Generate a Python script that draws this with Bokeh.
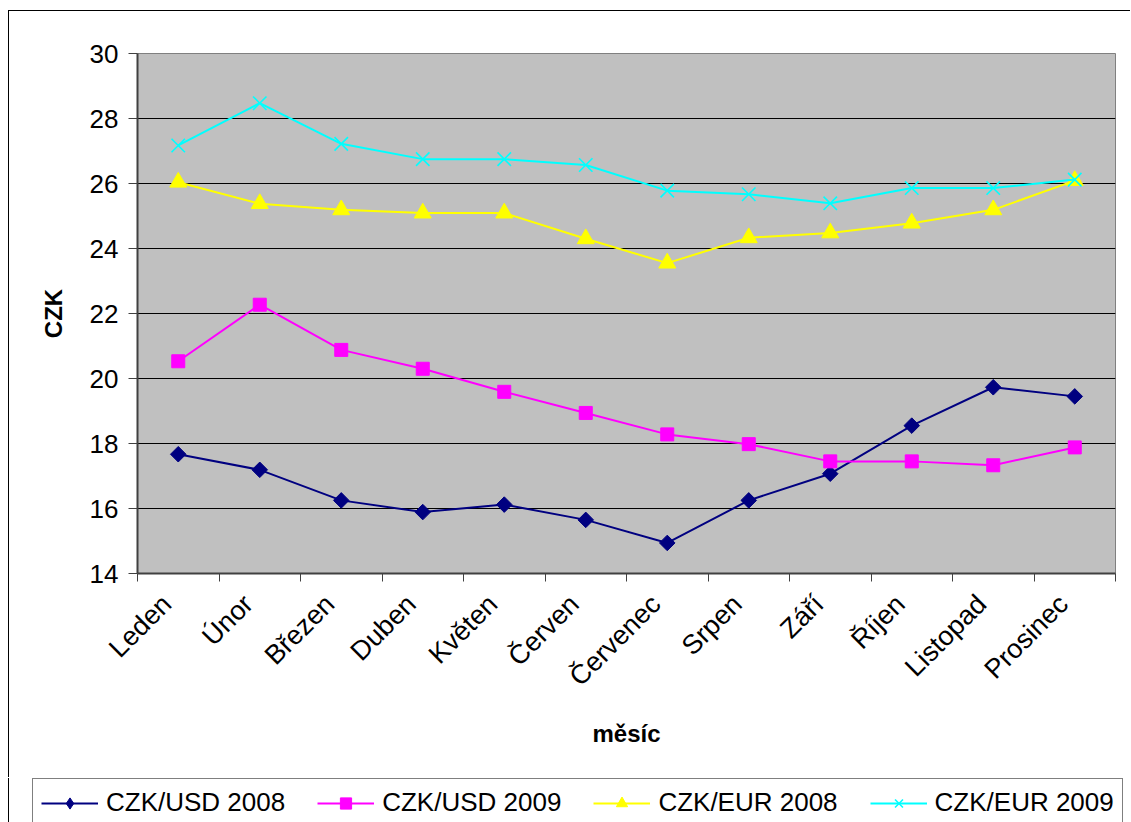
import math
from bokeh.plotting import figure
from bokeh.layouts import column
from bokeh.models import FixedTicker, Legend, LegendItem, Range1d
from bokeh.embed import file_html
from bokeh.resources import INLINE

months = ["Leden", "Únor", "Březen", "Duben", "Květen", "Červen",
          "Červenec", "Srpen", "Září", "Říjen", "Listopad", "Prosinec"]
usd_2008 = [17.67, 17.19, 16.25, 15.89, 16.12, 15.65, 14.94, 16.25, 17.07, 18.55, 19.73, 19.45]
usd_2009 = [20.53, 22.27, 20.88, 20.30, 19.59, 18.94, 18.28, 17.98, 17.45, 17.45, 17.33, 17.88]
eur_2008 = [26.04, 25.38, 25.19, 25.09, 25.09, 24.30, 23.55, 24.33, 24.48, 24.78, 25.19, 26.09]
eur_2009 = [27.17, 28.47, 27.22, 26.75, 26.75, 26.57, 25.78, 25.67, 25.39, 25.86, 25.86, 26.12]
y_ticks = [14, 16, 18, 20, 22, 24, 26, 28, 30]
series_names = ["CZK/USD 2008", "CZK/USD 2009", "CZK/EUR 2008", "CZK/EUR 2009"]

FONT = "Liberation Sans"
x = [i + 0.5 for i in range(len(months))]
label_pos = [xi - 0.14 for xi in x]

p = figure(width=1122, height=767, output_backend="svg", toolbar_location=None,
           x_range=Range1d(0, len(months)), y_range=Range1d(14, 30),
           min_border_left=128, min_border_right=16, min_border_top=42,
           min_border_bottom=205)
p.frame_align = False
p.margin = (11, 0, 0, 9)
p.styles = {"box-shadow": "-1px -1px 0px 0px black"}
p.background_fill_color = "#C0C0C0"
p.border_fill_color = "white"
p.outline_line_color = "#808080"
p.outline_line_width = 1

# x axis: labels under category centres, ticks at category boundaries
p.xaxis.ticker = FixedTicker(ticks=label_pos, minor_ticks=list(range(len(months) + 1)))
p.xaxis.major_label_overrides = {lp: m for lp, m in zip(label_pos, months)}
p.xaxis.major_label_orientation = math.pi / 4
p.xaxis.major_tick_out = 0
p.xaxis.major_tick_in = 0
p.xaxis.minor_tick_out = 8
p.xaxis.minor_tick_in = 0
p.xaxis.minor_tick_line_color = "#404040"
p.xaxis.axis_line_color = "#404040"
p.xaxis.axis_line_width = 2
p.xaxis.major_label_text_font = FONT
p.xaxis.major_label_text_font_size = "27px"
p.xaxis.major_label_text_color = "black"
p.xaxis.major_label_standoff = 18
p.xaxis.axis_label = "měsíc"
p.xaxis.axis_label_text_font = FONT
p.xaxis.axis_label_text_font_size = "24px"
p.xaxis.axis_label_text_font_style = "bold"
p.xaxis.axis_label_text_color = "black"
p.xaxis.axis_label_standoff = 15

p.yaxis.ticker = FixedTicker(ticks=y_ticks)
p.yaxis.major_tick_out = 9
p.yaxis.major_tick_in = 0
p.yaxis.minor_tick_out = 0
p.yaxis.minor_tick_in = 0
p.yaxis.major_tick_line_color = "#404040"
p.yaxis.axis_line_color = "#404040"
p.yaxis.axis_line_width = 2
p.yaxis.major_label_text_font = FONT
p.yaxis.major_label_text_font_size = "26px"
p.yaxis.major_label_text_color = "black"
p.yaxis.major_label_standoff = 10
p.yaxis.axis_label = "CZK"
p.yaxis.axis_label_text_font = FONT
p.yaxis.axis_label_text_font_size = "24px"
p.yaxis.axis_label_text_font_style = "bold"
p.yaxis.axis_label_text_color = "black"
p.yaxis.axis_label_standoff = 20

p.xgrid.grid_line_color = None
p.ygrid.grid_line_color = "black"
p.ygrid.grid_line_width = 1

colors = ["#000080", "#FF00FF", "#FFFF00", "#00FFFF"]
markers = ["square", "square", "triangle", "x"]
legend_markers = ["diamond", "square", "triangle", "x"]
angles = [math.pi / 4, 0, 0, 0]
sizes = [11, 13, 17, 19]
data = [usd_2008, usd_2009, eur_2008, eur_2009]

# legend strip below the chart (its own series copies fall outside its empty view)
pl = figure(width=1122, height=44, output_backend="svg", toolbar_location=None,
            x_axis_type=None, y_axis_type=None, x_range=Range1d(0, 1),
            y_range=Range1d(0, 1), min_border=0, min_border_left=23)
pl.frame_align = False
pl.margin = (0, 0, 0, 9)
pl.styles = {"box-shadow": "-1px 0px 0px 0px black"}
pl.outline_line_color = None
pl.background_fill_color = "white"
pl.border_fill_color = "white"
pl.xgrid.visible = False
pl.ygrid.visible = False

items = []
for name, ys, c, m, lm, a, s in zip(series_names, data, colors, markers,
                                     legend_markers, angles, sizes):
    p.line(x, ys, line_color=c, line_width=2)
    p.scatter(x, ys, marker=m, angle=a, size=s, fill_color=c, line_color=c,
              line_width=1.6 if m == "x" else 1)
    ln = pl.line(x, ys, line_color=c, line_width=2)
    sc = pl.scatter(x, ys, marker=lm, size=s, fill_color=c, line_color=c,
                    line_width=1.6 if m == "x" else 1)
    items.append(LegendItem(label=name, renderers=[ln, sc]))

legend = Legend(items=items, orientation="horizontal", location="top_left")
legend.label_text_font = FONT
legend.label_text_font_size = "26px"
legend.label_text_color = "black"
legend.glyph_width = 57
legend.glyph_height = 28
legend.label_standoff = 8
legend.spacing = 32
legend.padding = 8
legend.margin = 0
legend.border_line_color = "black"
legend.border_line_width = 1
legend.background_fill_color = "white"
legend.background_fill_alpha = 1
pl.add_layout(legend, "center")

layout = column(p, pl, spacing=0)
open("out.html", "w").write(file_html(layout, INLINE))
